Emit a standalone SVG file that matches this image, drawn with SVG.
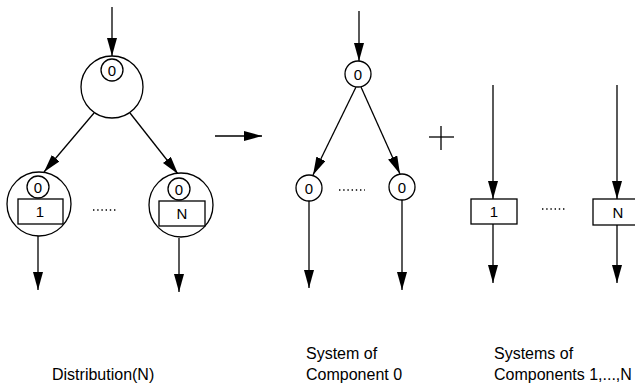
<svg xmlns="http://www.w3.org/2000/svg" width="635" height="385" viewBox="0 0 635 385">
  <style>
    .ln { stroke: #000; stroke-width: 1.3; fill: none; }
    .shape { stroke: #000; stroke-width: 1.3; fill: #fff; }
    .lbl { font-family: "Liberation Sans", Arial, sans-serif; font-size: 15px; fill: #000; text-anchor: middle; }
    .cap { font-family: "Liberation Sans", Arial, sans-serif; font-size: 16px; fill: #000; }
    .dots { stroke: #000; stroke-width: 1.3; stroke-dasharray: 1.4 2.8; fill: none; }
  </style>
  <defs>
    <marker id="arrow" markerUnits="userSpaceOnUse" markerWidth="19" markerHeight="10" viewBox="0 0 19 10" refX="18" refY="5" orient="auto">
      <path d="M0,0 L18,5 L0,10 z" fill="#000"/>
    </marker>
  </defs>

  <!-- connectors -->
  <g id="connectors">
    <!-- distribution tree -->
    <line class="ln" x1="112" y1="7" x2="112" y2="56" marker-end="url(#arrow)"/>
    <line class="ln" x1="94" y1="113" x2="44" y2="172" marker-end="url(#arrow)"/>
    <line class="ln" x1="130" y1="113" x2="178" y2="174" marker-end="url(#arrow)"/>
    <line class="ln" x1="38" y1="236" x2="38" y2="290" marker-end="url(#arrow)"/>
    <line class="ln" x1="179" y1="238" x2="179" y2="292" marker-end="url(#arrow)"/>
    <!-- transformation arrow -->
    <line class="ln" x1="215" y1="136" x2="262" y2="136" marker-end="url(#arrow)"/>
    <!-- component 0 system -->
    <line class="ln" x1="359" y1="11" x2="359" y2="61" marker-end="url(#arrow)"/>
    <line class="ln" x1="356" y1="87" x2="313" y2="175" marker-end="url(#arrow)"/>
    <line class="ln" x1="361" y1="87" x2="400" y2="174" marker-end="url(#arrow)"/>
    <line class="ln" x1="309" y1="201" x2="309" y2="288" marker-end="url(#arrow)"/>
    <line class="ln" x1="402" y1="200" x2="402" y2="290" marker-end="url(#arrow)"/>
    <!-- components 1..N -->
    <line class="ln" x1="493" y1="85" x2="493" y2="199" marker-end="url(#arrow)"/>
    <line class="ln" x1="493" y1="224" x2="493" y2="283" marker-end="url(#arrow)"/>
    <line class="ln" x1="617" y1="85" x2="617" y2="199" marker-end="url(#arrow)"/>
    <line class="ln" x1="617" y1="225" x2="617" y2="283" marker-end="url(#arrow)"/>
  </g>

  <!-- distribution node -->
  <g id="dist-root">
    <circle class="shape" cx="112" cy="87" r="31"/>
    <circle class="shape" cx="112" cy="70" r="11"/>
    <text class="lbl" x="112" y="75.5">0</text>
  </g>
  <g id="dist-child-1">
    <circle class="shape" cx="39" cy="204" r="32"/>
    <circle class="shape" cx="38" cy="187" r="11"/>
    <text class="lbl" x="38" y="192.5">0</text>
    <rect class="shape" x="18" y="199" width="45" height="25"/>
    <text class="lbl" x="40" y="217">1</text>
  </g>
  <g id="dist-child-n">
    <circle class="shape" cx="181" cy="205" r="32"/>
    <circle class="shape" cx="179" cy="189" r="11"/>
    <text class="lbl" x="179" y="194.5">0</text>
    <rect class="shape" x="159" y="201" width="46" height="25"/>
    <text class="lbl" x="182" y="219">N</text>
  </g>
  <line class="dots" x1="93" y1="210" x2="118" y2="210"/>

  <!-- component 0 system -->
  <g id="sys0-root">
    <circle class="shape" cx="358" cy="74" r="13"/>
    <text class="lbl" x="358" y="79.5">0</text>
  </g>
  <g id="sys0-child-1">
    <circle class="shape" cx="309" cy="188" r="13"/>
    <text class="lbl" x="309" y="193.5">0</text>
  </g>
  <g id="sys0-child-n">
    <circle class="shape" cx="402" cy="187" r="13"/>
    <text class="lbl" x="402" y="192.5">0</text>
  </g>
  <line class="dots" x1="339" y1="190" x2="365" y2="190"/>

  <!-- plus sign -->
  <g id="plus">
    <line class="ln" x1="429" y1="137" x2="454" y2="137"/>
    <line class="ln" x1="441" y1="126" x2="441" y2="150"/>
  </g>

  <!-- components 1..N -->
  <g id="comp-1">
    <rect class="shape" x="471" y="199" width="46" height="25"/>
    <text class="lbl" x="494" y="217">1</text>
  </g>
  <g id="comp-n">
    <rect class="shape" x="593" y="199" width="48" height="26"/>
    <text class="lbl" x="618" y="217.5">N</text>
  </g>
  <line class="dots" x1="542" y1="209" x2="567" y2="209"/>

  <!-- captions -->
  <g id="captions">
    <text class="cap" x="52" y="380">Distribution(N)</text>
    <text class="cap" x="306" y="359">System of</text>
    <text class="cap" x="306" y="380">Component 0</text>
    <text class="cap" x="494" y="359">Systems of</text>
    <text class="cap" x="494" y="380">Components 1,...,N</text>
  </g>
</svg>
